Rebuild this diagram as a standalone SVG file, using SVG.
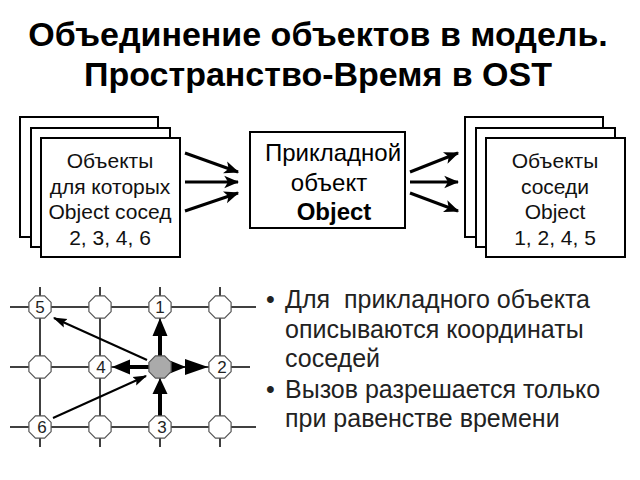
<svg xmlns="http://www.w3.org/2000/svg" xmlns:xlink="http://www.w3.org/1999/xlink" width="640" height="480" viewBox="0 0 640 480">
<style>
text{font-family:"Liberation Sans",Arial,sans-serif;}
.title{font-size:34px;font-weight:bold;fill:#000;text-anchor:middle;}
.box{fill:#fff;stroke:#000;stroke-width:2;}
.bt{font-size:21px;fill:#111;text-anchor:middle;}
.ct{font-size:24px;fill:#000;text-anchor:middle;}
.conn{stroke:#000;stroke-width:3;fill:none;}
.grid{stroke:#000;stroke-width:1.5;}
.nd{fill:#fff;stroke:#555;stroke-width:1.2;}
.nl{font-size:17px;fill:#222;text-anchor:middle;}
.thick{stroke:#000;stroke-width:4;}
.head{fill:#000;}
.thin{stroke:#000;stroke-width:2;fill:none;}
.bul{font-size:25px;fill:#222;}
</style>
<defs>
<marker id="ah" viewBox="0 0 12 10" refX="11" refY="5" markerWidth="5" markerHeight="5" orient="auto" markerUnits="strokeWidth">
<path d="M0,0 L12,5 L0,10 L3,5 Z" fill="#000"/>
</marker>
<marker id="ah2" viewBox="0 0 12 10" refX="11" refY="5" markerWidth="7" markerHeight="6" orient="auto" markerUnits="strokeWidth">
<path d="M0,1 L12,5 L0,9 L2,5 Z" fill="#000"/>
</marker>
<polygon id="oct" points="11.1,4.6 4.6,11.1 -4.6,11.1 -11.1,4.6 -11.1,-4.6 -4.6,-11.1 4.6,-11.1 11.1,-4.6"/>
</defs>

<text class="title" x="318" y="46">Объединение объектов в модель.</text>
<text class="title" x="318" y="86">Пространство-Время в OST</text>

<g id="left-stack">
<rect class="box" x="20" y="117" width="138" height="120"/>
<rect class="box" x="31" y="128" width="139" height="119"/>
<rect class="box" x="41" y="138" width="139" height="119"/>
<text class="bt" x="110" y="168">Объекты</text>
<text class="bt" x="110" y="194">для которых</text>
<text class="bt" x="110" y="219">Object сосед</text>
<text class="bt" x="110" y="245">2, 3, 4, 6</text>
</g>

<g id="center">
<rect class="box" x="250" y="132" width="155" height="96"/>
<text class="ct" x="333" y="161">Прикладной</text>
<text class="ct" x="329" y="191">объект</text>
<text class="ct" x="334" y="220" font-weight="bold">Object</text>
</g>

<g id="right-stack">
<rect class="box" x="465" y="117" width="138" height="120"/>
<rect class="box" x="476" y="128" width="139" height="119"/>
<rect class="box" x="486" y="138" width="139" height="119"/>
<text class="bt" x="555" y="168">Объекты</text>
<text class="bt" x="555" y="194">соседи</text>
<text class="bt" x="555" y="219">Object</text>
<text class="bt" x="555" y="245">1, 2, 4, 5</text>
</g>

<g id="connectors">
<line class="conn" x1="185" y1="153" x2="238" y2="172" marker-end="url(#ah)"/>
<line class="conn" x1="185" y1="182" x2="238" y2="182" marker-end="url(#ah)"/>
<line class="conn" x1="185" y1="211" x2="238" y2="193" marker-end="url(#ah)"/>
<line class="conn" x1="410" y1="172" x2="458" y2="153" marker-end="url(#ah)"/>
<line class="conn" x1="410" y1="182" x2="458" y2="182" marker-end="url(#ah)"/>
<line class="conn" x1="410" y1="193" x2="458" y2="211" marker-end="url(#ah)"/>
</g>

<g id="grid">
<line class="grid" x1="10" y1="307" x2="256" y2="307"/>
<line class="grid" x1="10" y1="367" x2="250" y2="367"/>
<line class="grid" x1="10" y1="427" x2="256" y2="427"/>
<line class="grid" x1="40" y1="287" x2="40" y2="447"/>
<line class="grid" x1="100" y1="287" x2="100" y2="447"/>
<line class="grid" x1="160" y1="287" x2="160" y2="447"/>
<line class="grid" x1="220" y1="287" x2="220" y2="447"/>
</g>

<g id="grid-arrows">
<line class="thick" x1="160" y1="356" x2="160" y2="334"/>
<polygon class="head" points="160,318 152.5,336 167.5,336"/>
<line class="thick" x1="149" y1="367" x2="128" y2="367"/>
<polygon class="head" points="112,367 130,359.5 130,374.5"/>
<polygon class="head" points="186,367 166,359 166,375"/>
<polygon class="head" points="208,367 185,359 185,375"/>
<line class="thick" x1="160" y1="416" x2="160" y2="390"/>
<polygon class="head" points="160,378 152.5,394 167.5,394"/>
<line class="thin" x1="147" y1="360" x2="54" y2="318" marker-end="url(#ah2)"/>
<line class="thin" x1="53" y1="418" x2="146" y2="376" marker-end="url(#ah2)"/>
</g>

<g id="node-5"><use href="#oct" class="nd" x="40" y="307"/><text class="nl" x="40" y="313">5</text></g>
<g id="node-a"><use href="#oct" class="nd" x="100" y="307"/></g>
<g id="node-1"><use href="#oct" class="nd" x="160" y="307"/><text class="nl" x="160" y="313">1</text></g>
<g id="node-b"><use href="#oct" class="nd" x="220" y="307"/></g>
<g id="node-c"><use href="#oct" class="nd" x="40" y="367"/></g>
<g id="node-4"><use href="#oct" class="nd" x="100" y="367"/><text class="nl" x="101" y="373">4</text></g>
<g id="node-center"><use href="#oct" class="nd" x="160" y="367" style="fill:#aaa"/></g>
<g id="node-2"><use href="#oct" class="nd" x="220" y="367"/><text class="nl" x="222" y="373">2</text></g>
<g id="node-6"><use href="#oct" class="nd" x="40" y="427"/><text class="nl" x="42" y="433">6</text></g>
<g id="node-d"><use href="#oct" class="nd" x="100" y="427"/></g>
<g id="node-3"><use href="#oct" class="nd" x="160" y="427"/><text class="nl" x="162" y="433">3</text></g>
<g id="node-e"><use href="#oct" class="nd" x="220" y="427"/></g>

<g id="bullets">
<text class="bul" x="266" y="308">•</text>
<text class="bul" x="285" y="308" xml:space="preserve">Для  прикладного объекта</text>
<text class="bul" x="285" y="338">описываются координаты</text>
<text class="bul" x="285" y="367">соседей</text>
<text class="bul" x="266" y="398">•</text>
<text class="bul" x="285" y="398">Вызов разрешается только</text>
<text class="bul" x="285" y="427">при равенстве времени</text>
</g>
</svg>
